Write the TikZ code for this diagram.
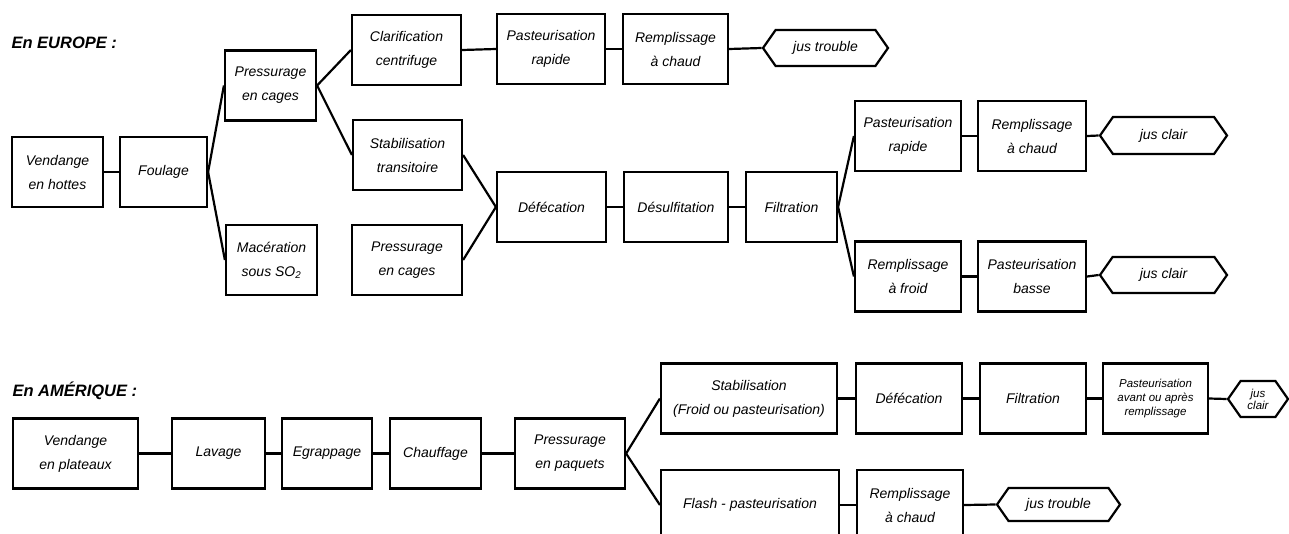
\documentclass[tikz,border=0pt]{standalone}
\usepackage{fontspec}
\setmainfont{Liberation Sans}
\usetikzlibrary{shapes.symbols}

\begin{document}
\begin{tikzpicture}[x=1pt, y=-1pt,
  boite/.style={draw, line width=2.2pt, inner sep=0pt, minimum height=70pt, align=center,
    font=\itshape\fontsize{14}{24}\selectfont},
  sortie/.style={draw, line width=2.2pt, inner sep=0pt, signal, signal to=west and east,
    signal pointer angle=110, font=\itshape\fontsize{14}{16}\selectfont},
  trait/.style={line width=2.2pt},
  titre/.style={anchor=west, font=\bfseries\itshape\fontsize{16.5}{18}\selectfont}]

  % Fixez le cadre de la figure
  \clip (0,0) rectangle (1289,533);

  % Ajoutez les titres
  \node[titre] (teurope) at (8,43) {En EUROPE :};
  \node[titre] (tamerique) at (9,391) {En AMÉRIQUE :};

  % Dessinez les boites (Europe)
  \foreach \nom/\x/\y/\l/\texte in {vh/57.5/172/91/{Vendange\\en hottes},
      fo/163.5/172/87/{Foulage},
      pc1/270.5/85.5/91/{Pressurage\\en cages},
      ma/271.5/260/91/{Macération\\sous SO\textsubscript{2}},
      cl/406.5/50/109/{Clarification\\centrifuge},
      st/407.5/155/109/{Stabilisation\\transitoire},
      pc2/407/260/110/{Pressurage\\en cages},
      pr1/551/49/108/{Pasteurisation\\rapide},
      rc1/675.5/49/105/{Remplissage\\à chaud},
      de/551.5/207/109/{Défécation},
      ds/676/207/104/{Désulfitation},
      fi/791.5/207/91/{Filtration},
      pr2/908/136/106/{Pasteurisation\\rapide},
      rc2/1032/136/108/{Remplissage\\à chaud},
      rf/908/276.5/106/{Remplissage\\à froid},
      pb/1032/276.5/108/{Pasteurisation\\basse}} {
    \node[boite, minimum width=\l pt] (\nom) at (\x,\y) {\texte};
  }

  % Dessinez les boites (Amérique)
  \foreach \nom/\x/\y/\l/\texte in {vp/75.5/453.5/125/{Vendange\\en plateaux},
      la/218.5/453.5/93/{Lavage},
      eg/327/453.5/90/{Egrappage},
      ch/435.5/453.5/91/{Chauffage},
      pp/570/453.5/110/{Pressurage\\en paquets},
      sb/749/398.5/176/{Stabilisation\\(Froid ou pasteurisation)},
      da/909/398.5/106/{Défécation},
      fa/1033/398.5/106/{Filtration},
      fp/750/505/178/{Flash - pasteurisation},
      rc3/910/505/106/{Remplissage\\à chaud}} {
    \node[boite, minimum width=\l pt] (\nom) at (\x,\y) {\texte};
  }
  \node[boite, minimum width=105pt, font=\itshape\fontsize{11.5}{14}\selectfont]
    (pa) at (1155.5,398.5) {Pasteurisation\\avant ou après\\remplissage};

  % Ajoutez les jus obtenus
  \foreach \nom/\x/\y/\l/\h/\texte in {jt1/825.5/48/125/36/{jus trouble},
      jc1/1163.5/135.5/127/37/{jus clair},
      jc2/1163.5/275/127/36/{jus clair},
      jt2/1058.5/504.5/123/33/{jus trouble}} {
    \node[sortie, minimum width=\l pt, minimum height=\h pt] (\nom) at (\x,\y) {\texte};
  }
  \node[sortie, minimum width=60pt, minimum height=36pt, align=center,
    font=\itshape\fontsize{11.5}{12}\selectfont] (jc3) at (1258,399) {jus\\clair};

  % Reliez les etapes
  \foreach \a/\b in {vh/fo, fo/pc1, fo/ma, pc1/cl, pc1/st, cl/pr1, pr1/rc1, rc1/jt1,
      st/de, pc2/de, de/ds, ds/fi, fi/pr2, fi/rf, pr2/rc2, rc2/jc1, rf/pb, pb/jc2,
      vp/la, la/eg, eg/ch, ch/pp, pp/sb, pp/fp, sb/da, da/fa, fa/pa, pa/jc3,
      fp/rc3, rc3/jt2} {
    \draw[trait] (\a.east) -- (\b.west);
  }
\end{tikzpicture}
\end{document}
